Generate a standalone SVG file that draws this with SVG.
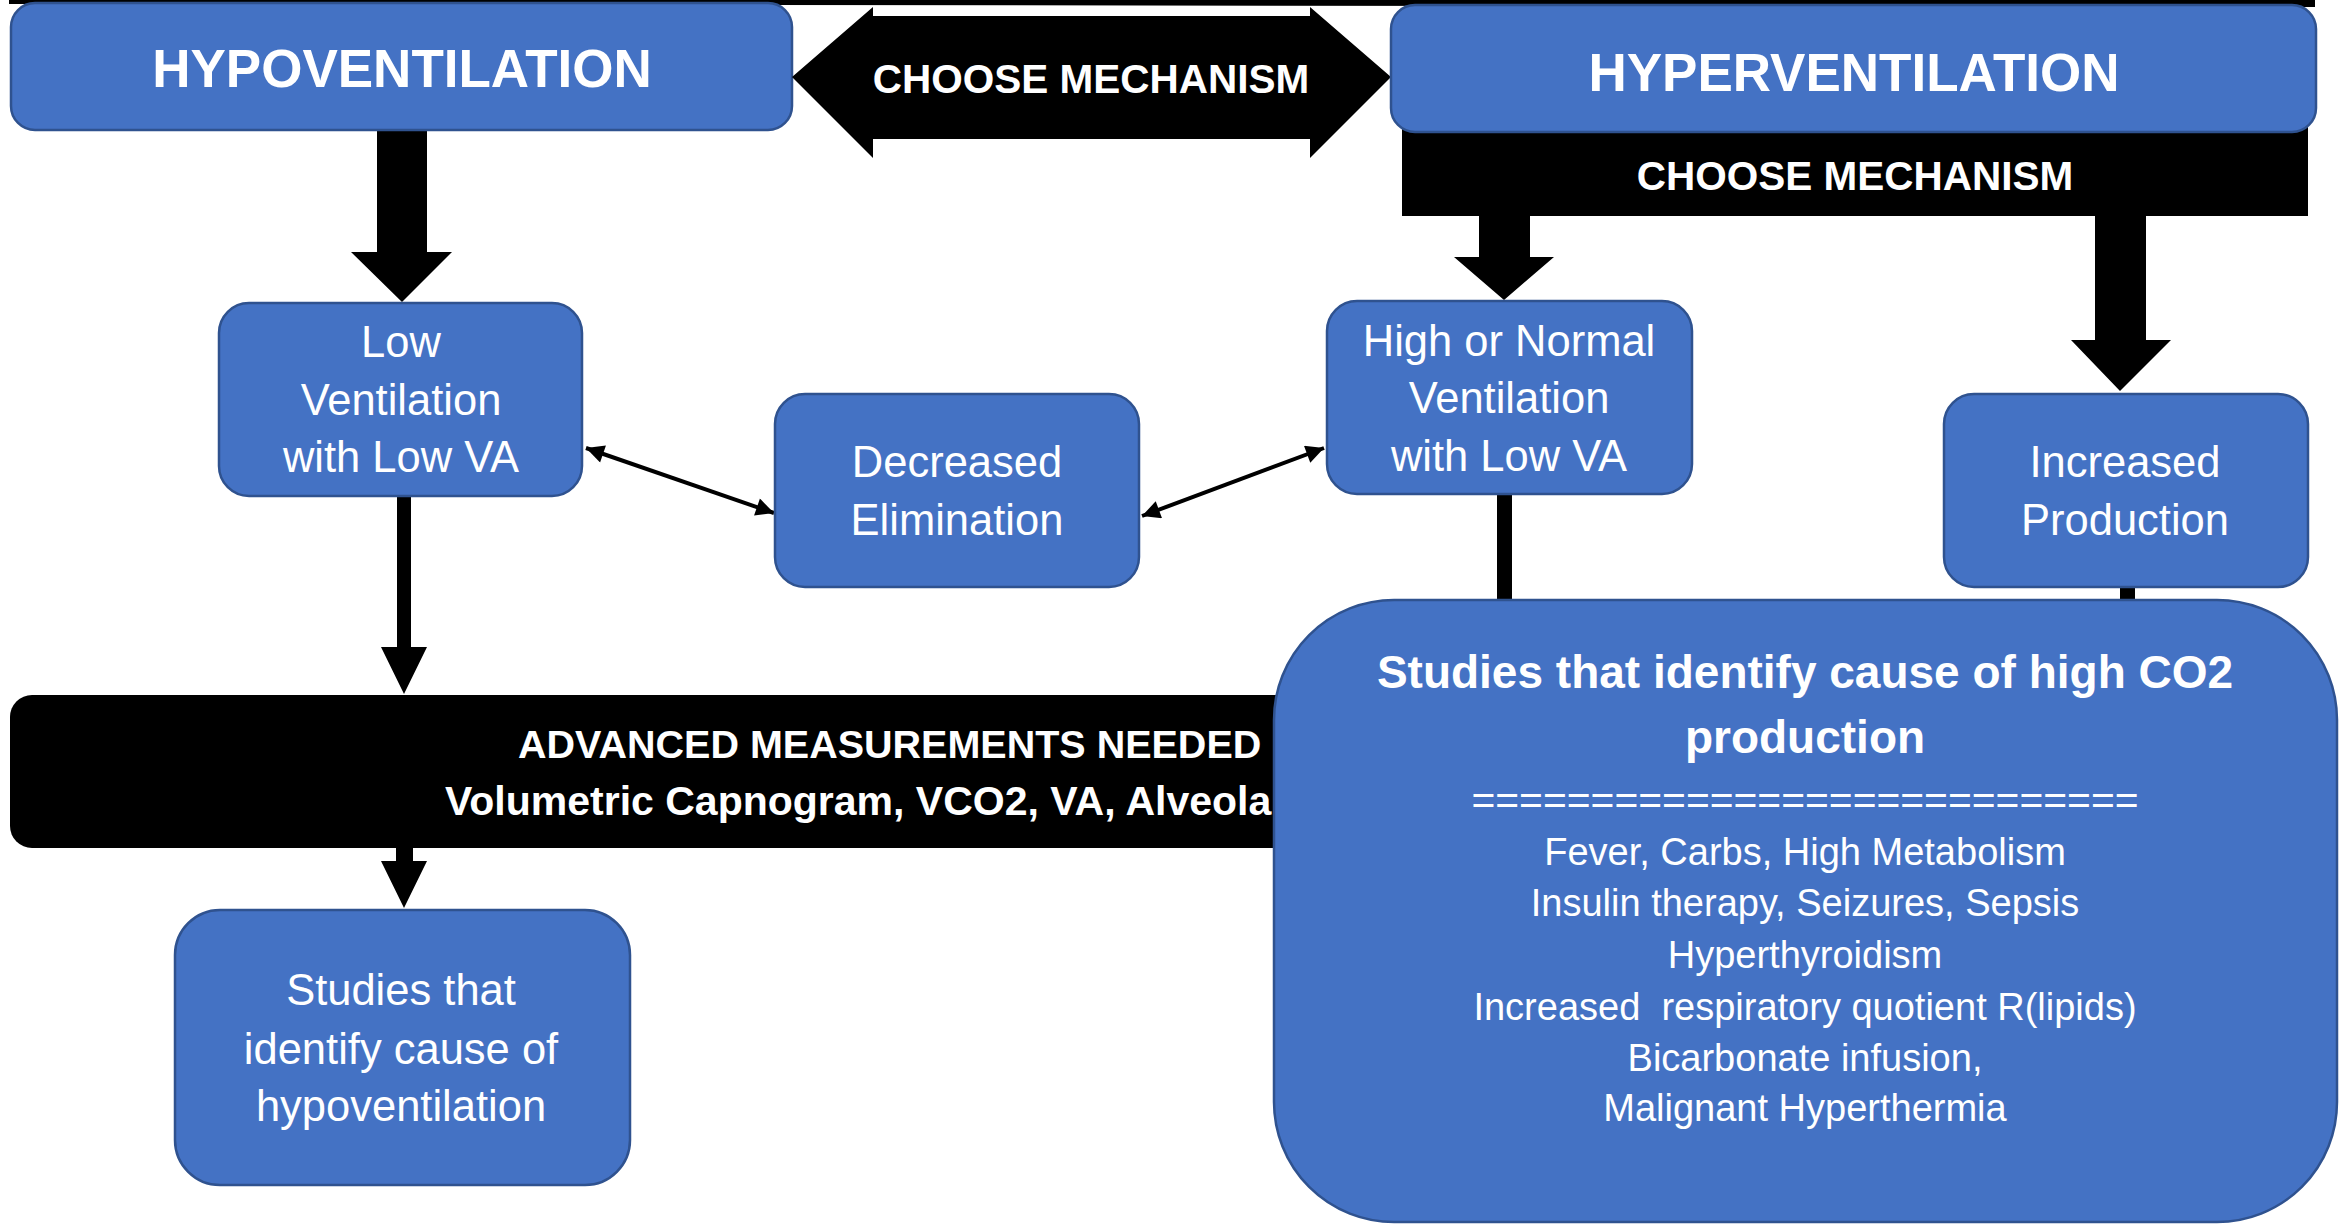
<svg xmlns="http://www.w3.org/2000/svg" width="2341" height="1224" viewBox="0 0 2341 1224">
  <defs>
    <style>
      .box { fill: #4472C4; stroke: #2F528F; stroke-width: 2.5; }
      .blk { fill: #000000; }
      .t { fill: #FFFFFF; font-family: "Liberation Sans", Arial, sans-serif; text-anchor: middle; }
      .big { font-size: 53px; font-weight: bold; }
      .hdr { font-size: 40.5px; font-weight: bold; }
      .mid { font-size: 43.5px; }
      .ttl { font-size: 46px; font-weight: bold; }
      .body { font-size: 38px; }
      .thin { stroke: #000000; stroke-width: 4; fill: none; marker-start: url(#tip); marker-end: url(#tip); }
    </style>
    <marker id="tip" viewBox="0 0 10 10" refX="10" refY="5" markerWidth="5" markerHeight="4.5" orient="auto-start-reverse" markerUnits="strokeWidth">
      <path d="M0,0 L10,5 L0,10 Z" fill="#000000"/>
    </marker>
  </defs>

  <!-- thin black rule along the top edge -->
  <polygon class="blk" points="9,0 2315,0 2315,7 9,4"/>

  <!-- connectors -->
  <g id="connectors">
    <polygon class="blk" points="377,128 427,128 427,252 452,252 402,302 351,252 377,252"/>
    <polygon class="blk" points="1479,214 1530,214 1530,257 1554,257 1504,300 1454,257 1479,257"/>
    <polygon class="blk" points="2095,214 2146,214 2146,340 2171,340 2120,391 2071,340 2095,340"/>
    <polygon class="blk" points="397,494 411,494 411,647 427,647 404,694 381,647 397,647"/>
    <polygon class="blk" points="396,846 413,846 413,861 427,861 404,908 381,861 396,861"/>
    <rect class="blk" x="1497" y="492" width="15" height="112"/>
    <rect class="blk" x="2120" y="585" width="15" height="19"/>
    <line class="thin" x1="586" y1="448" x2="774" y2="513"/>
    <line class="thin" x1="1142" y1="516" x2="1324" y2="448"/>
  </g>

  <!-- left branch -->
  <g id="hypoventilation">
    <rect class="box" x="11" y="3" width="781" height="127" rx="24"/>
    <text class="t big" x="402" y="87">HYPOVENTILATION</text>
  </g>

  <g id="choose-mechanism-arrow">
    <polygon class="blk" points="792,77 873,7 873,16 1310,16 1310,7 1391,77 1310,158 1310,139 873,139 873,158"/>
    <text class="t hdr" x="1091" y="93">CHOOSE MECHANISM</text>
  </g>

  <!-- right branch -->
  <g id="choose-mechanism-bar">
    <rect class="blk" x="1402" y="126" width="906" height="90"/>
    <text class="t hdr" x="1855" y="190">CHOOSE MECHANISM</text>
  </g>

  <g id="hyperventilation">
    <rect class="box" x="1391" y="5" width="925" height="127" rx="24"/>
    <text class="t big" x="1854" y="91">HYPERVENTILATION</text>
  </g>

  <g id="low-ventilation">
    <rect class="box" x="219" y="303" width="363" height="193" rx="30"/>
    <text class="t mid" x="401" y="357">Low</text>
    <text class="t mid" x="401" y="415">Ventilation</text>
    <text class="t mid" x="401" y="472">with Low VA</text>
  </g>

  <g id="decreased-elimination">
    <rect class="box" x="775" y="394" width="364" height="193" rx="30"/>
    <text class="t mid" x="957" y="477">Decreased</text>
    <text class="t mid" x="957" y="535">Elimination</text>
  </g>

  <g id="high-normal-ventilation">
    <rect class="box" x="1327" y="301" width="365" height="193" rx="30"/>
    <text class="t mid" x="1509" y="356">High or Normal</text>
    <text class="t mid" x="1509" y="413">Ventilation</text>
    <text class="t mid" x="1509" y="471">with Low VA</text>
  </g>

  <g id="increased-production">
    <rect class="box" x="1944" y="394" width="364" height="193" rx="30"/>
    <text class="t mid" x="2125" y="477">Increased</text>
    <text class="t mid" x="2125" y="535">Production</text>
  </g>

  <g id="advanced-measurements">
    <rect class="blk" x="10" y="695" width="1700" height="153" rx="22"/>
    <text class="t hdr" x="518" y="758" style="text-anchor:start;font-size:39.5px">ADVANCED MEASUREMENTS NEEDED</text>
    <text class="t hdr" x="445" y="815" style="text-anchor:start;font-size:41px">Volumetric Capnogram, VCO2, VA, Alveola</text>
  </g>

  <g id="studies-hypoventilation">
    <rect class="box" x="175" y="910" width="455" height="275" rx="45"/>
    <text class="t mid" x="401" y="1005">Studies that</text>
    <text class="t mid" x="401" y="1064">identify cause of</text>
    <text class="t mid" x="401" y="1121">hypoventilation</text>
  </g>

  <g id="studies-co2-production">
    <rect class="box" x="1274" y="600" width="1063" height="622" rx="120"/>
    <text class="t ttl" x="1805" y="688">Studies that identify cause of high CO2</text>
    <text class="t ttl" x="1805" y="753">production</text>
    <text class="t" x="1805" y="814" style="font-size:40.8px">============================</text>
    <text class="t body" x="1805" y="865">Fever, Carbs, High Metabolism</text>
    <text class="t body" x="1805" y="916">Insulin therapy, Seizures, Sepsis</text>
    <text class="t body" x="1805" y="968">Hyperthyroidism</text>
    <text class="t body" x="1805" y="1020" xml:space="preserve">Increased  respiratory quotient R(lipids)</text>
    <text class="t body" x="1805" y="1071">Bicarbonate infusion,</text>
    <text class="t body" x="1805" y="1121">Malignant Hyperthermia</text>
  </g>
</svg>
